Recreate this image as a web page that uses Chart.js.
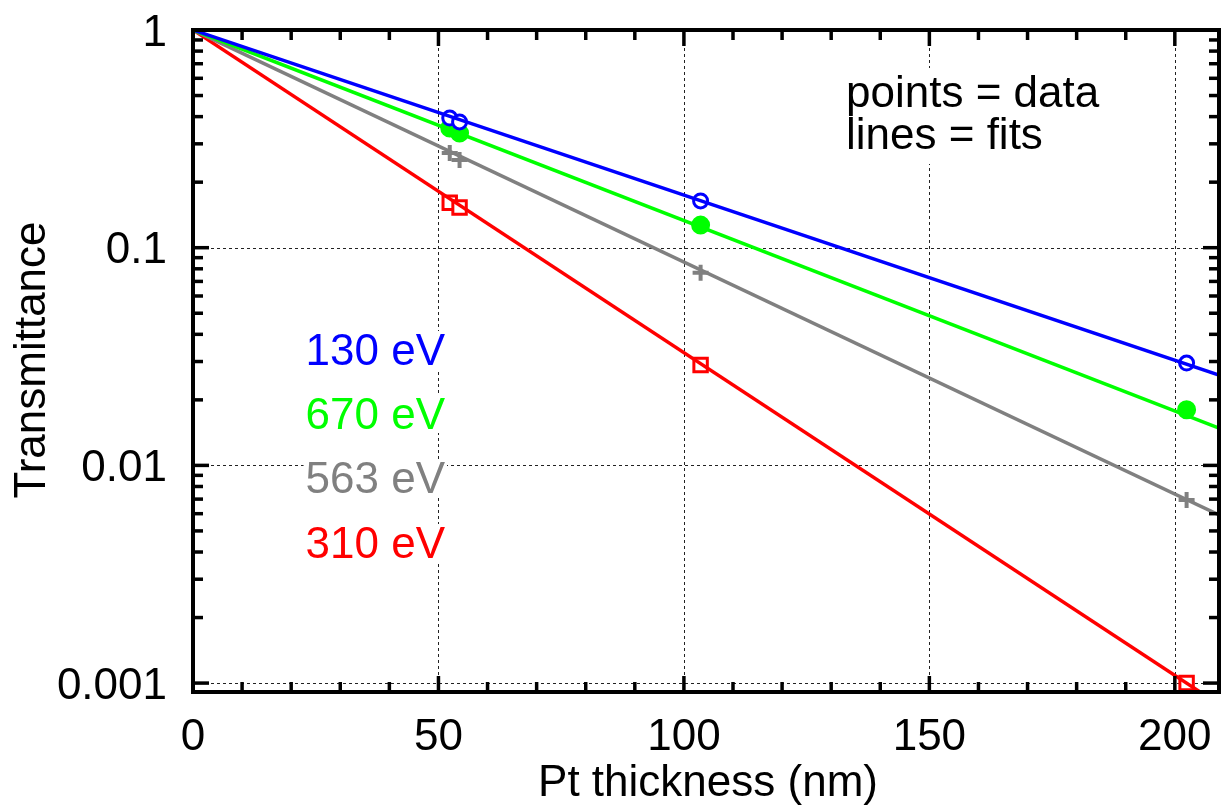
<!DOCTYPE html>
<html>
<head>
<meta charset="utf-8">
<script src="https://cdn.jsdelivr.net/npm/chart.js@4/dist/chart.umd.min.js"></script>
<style>
  html, body { margin: 0; padding: 0; background: #fff; }
  #wrap { width: 1225px; height: 805px; }
</style>
</head>
<body>
<div id="wrap"><canvas id="transChart" width="1225" height="805"></canvas></div>
<script>
// Pt film thicknesses (nm) of the measured samples
const thickness = [52.3, 54.3, 103.4, 202.4];

// measured transmittance at each photon energy
const energies = ["130 eV", "670 eV", "563 eV", "310 eV"];
const colors = ["#0000ff", "#00ff00", "#808080", "#ff0000"];
const trans130 = [0.394, 0.378, 0.164, 0.0295];
const trans670 = [0.355, 0.336, 0.127, 0.0180];
const trans563 = [0.272, 0.253, 0.0768, 0.00694];
const trans310 = [0.161, 0.153, 0.0289, 0.00100];

// exponential fits, drawn from zero thickness to the axis end
const fitX = [0, 209];
const fit130 = [1, 0.0260];
const fit670 = [1, 0.01485];
const fit563 = [1, 0.00592];
const fit310 = [1, 0.000798];

// axis ticks
const xMajor = [0, 50, 100, 150, 200];
const xMinor = [10, 20, 30, 40, 60, 70, 80, 90, 110, 120, 130, 140, 160, 170, 180, 190];
const yMajor = [1, 0.1, 0.01, 0.001];
const yMajorLabels = ["1", "0.1", "0.01", "0.001"];
const yMinor = [];
[0.001, 0.01, 0.1].forEach(d => { for (let k = 2; k <= 9; k++) yMinor.push(d * k); });

const FONT = '44px "Liberation Sans", Arial, sans-serif';

function pts(xs, ys) {
  return xs.map((x, i) => ({ x: x, y: ys[i] }));
}

const markerSets = [
  { data: trans130, style: "circle", radius: 7, width: 3, fill: "#ffffff" },
  { data: trans670, style: "circle", radius: 8.5, width: 2, fill: colors[1] },
  { data: trans563, style: "cross", radius: 8, width: 4, fill: colors[2] },
  { data: trans310, style: "rect", radius: 9.5, width: 3, fill: "#ffffff" }
];
const fitSets = [fit130, fit670, fit563, fit310];

const datasets = [];
fitSets.forEach((f, i) => {
  datasets.push({
    label: energies[i] + " fit",
    data: pts(fitX, f),
    showLine: true,
    borderColor: colors[i],
    borderWidth: 3.5,
    pointRadius: 0,
    fill: false
  });
});
markerSets.forEach((m, i) => {
  datasets.push({
    label: energies[i],
    data: pts(thickness, m.data),
    showLine: false,
    pointStyle: m.style,
    pointRadius: m.radius,
    pointBorderColor: colors[i],
    pointBackgroundColor: m.fill,
    pointBorderWidth: m.width,
    clip: false
  });
});

// grid, frame, ticks and texts drawn against the chart's own scales
const framePlugin = {
  id: "frame",
  beforeDatasetsDraw(chart) {
    const ctx = chart.ctx, a = chart.chartArea;
    const xs = chart.scales.x, ys = chart.scales.y;
    ctx.save();
    ctx.strokeStyle = "#222";
    ctx.lineWidth = 1;
    ctx.setLineDash([3, 3]);
    xMajor.slice(1).forEach(v => {
      const px = Math.round(xs.getPixelForValue(v)) + 0.5;
      ctx.beginPath(); ctx.moveTo(px, a.top); ctx.lineTo(px, a.bottom); ctx.stroke();
    });
    yMajor.slice(1).forEach(v => {
      const py = Math.round(ys.getPixelForValue(v)) + 0.5;
      ctx.beginPath(); ctx.moveTo(a.left, py); ctx.lineTo(a.right, py); ctx.stroke();
    });
    ctx.setLineDash([]);

    // energy labels and the note, on white boxes over the grid
    ctx.font = FONT;
    ctx.textBaseline = "alphabetic";
    ctx.textAlign = "right";
    const baseY = [365, 429, 493, 558];
    energies.forEach((t, i) => {
      const w = ctx.measureText(t).width;
      ctx.fillStyle = "#fff";
      ctx.fillRect(445 - w - 2, baseY[i] - 34, w + 4, 38);
      ctx.fillStyle = colors[i];
      ctx.fillText(t, 445, baseY[i]);
    });
    ctx.textAlign = "left";
    const note = ["points = data", "lines = fits"];
    const noteY = [107, 149];
    ctx.fillStyle = "#fff";
    ctx.fillRect(843, 68, 266, 96);
    ctx.fillStyle = "#000";
    note.forEach((t, i) => ctx.fillText(t, 846, noteY[i]));
    ctx.restore();
  },
  afterDraw(chart) {
    const ctx = chart.ctx, a = chart.chartArea;
    const xs = chart.scales.x, ys = chart.scales.y;
    ctx.save();
    ctx.strokeStyle = "#000";
    ctx.lineCap = "butt";

    // ticks on all four sides, pointing inward
    ctx.lineWidth = 3.5;
    const tickX = (v, len) => {
      const px = xs.getPixelForValue(v);
      ctx.beginPath(); ctx.moveTo(px, a.bottom); ctx.lineTo(px, a.bottom - len); ctx.stroke();
      ctx.beginPath(); ctx.moveTo(px, a.top); ctx.lineTo(px, a.top + len); ctx.stroke();
    };
    const tickY = (v, len) => {
      const py = ys.getPixelForValue(v);
      ctx.beginPath(); ctx.moveTo(a.left, py); ctx.lineTo(a.left + len, py); ctx.stroke();
      ctx.beginPath(); ctx.moveTo(a.right, py); ctx.lineTo(a.right - len, py); ctx.stroke();
    };
    xMajor.forEach(v => tickX(v, 16));
    xMinor.forEach(v => tickX(v, 10));
    yMajor.forEach(v => tickY(v, 16));
    yMinor.forEach(v => tickY(v, 10));

    // frame
    ctx.lineWidth = 4;
    ctx.strokeRect(a.left, a.top, a.right - a.left, a.bottom - a.top);

    // tick labels
    ctx.fillStyle = "#000";
    ctx.font = FONT;
    ctx.textAlign = "center";
    ctx.textBaseline = "alphabetic";
    xMajor.forEach(v => ctx.fillText(String(v), xs.getPixelForValue(v), 750));
    ctx.textAlign = "right";
    yMajor.forEach((v, i) => ctx.fillText(yMajorLabels[i], 167, ys.getPixelForValue(v) + 15.5));

    // axis titles
    ctx.textAlign = "center";
    ctx.fillText("Pt thickness (nm)", 708, 796);
    ctx.translate(45, 360);
    ctx.rotate(-Math.PI / 2);
    ctx.fillText("Transmittance", 0, 0);
    ctx.restore();
  }
};

new Chart(document.getElementById("transChart").getContext("2d"), {
  type: "scatter",
  data: { datasets },
  options: {
    responsive: false,
    animation: false,
    events: [],
    layout: {
      autoPadding: false,
      padding: { left: 193, right: 6, top: 30, bottom: 113 }
    },
    scales: {
      x: { type: "linear", min: 0, max: 209, display: false },
      y: { type: "logarithmic", min: 0.00091, max: 1, display: false }
    },
    plugins: {
      legend: { display: false },
      tooltip: { enabled: false }
    }
  },
  plugins: [framePlugin]
});
</script>
</body>
</html>
